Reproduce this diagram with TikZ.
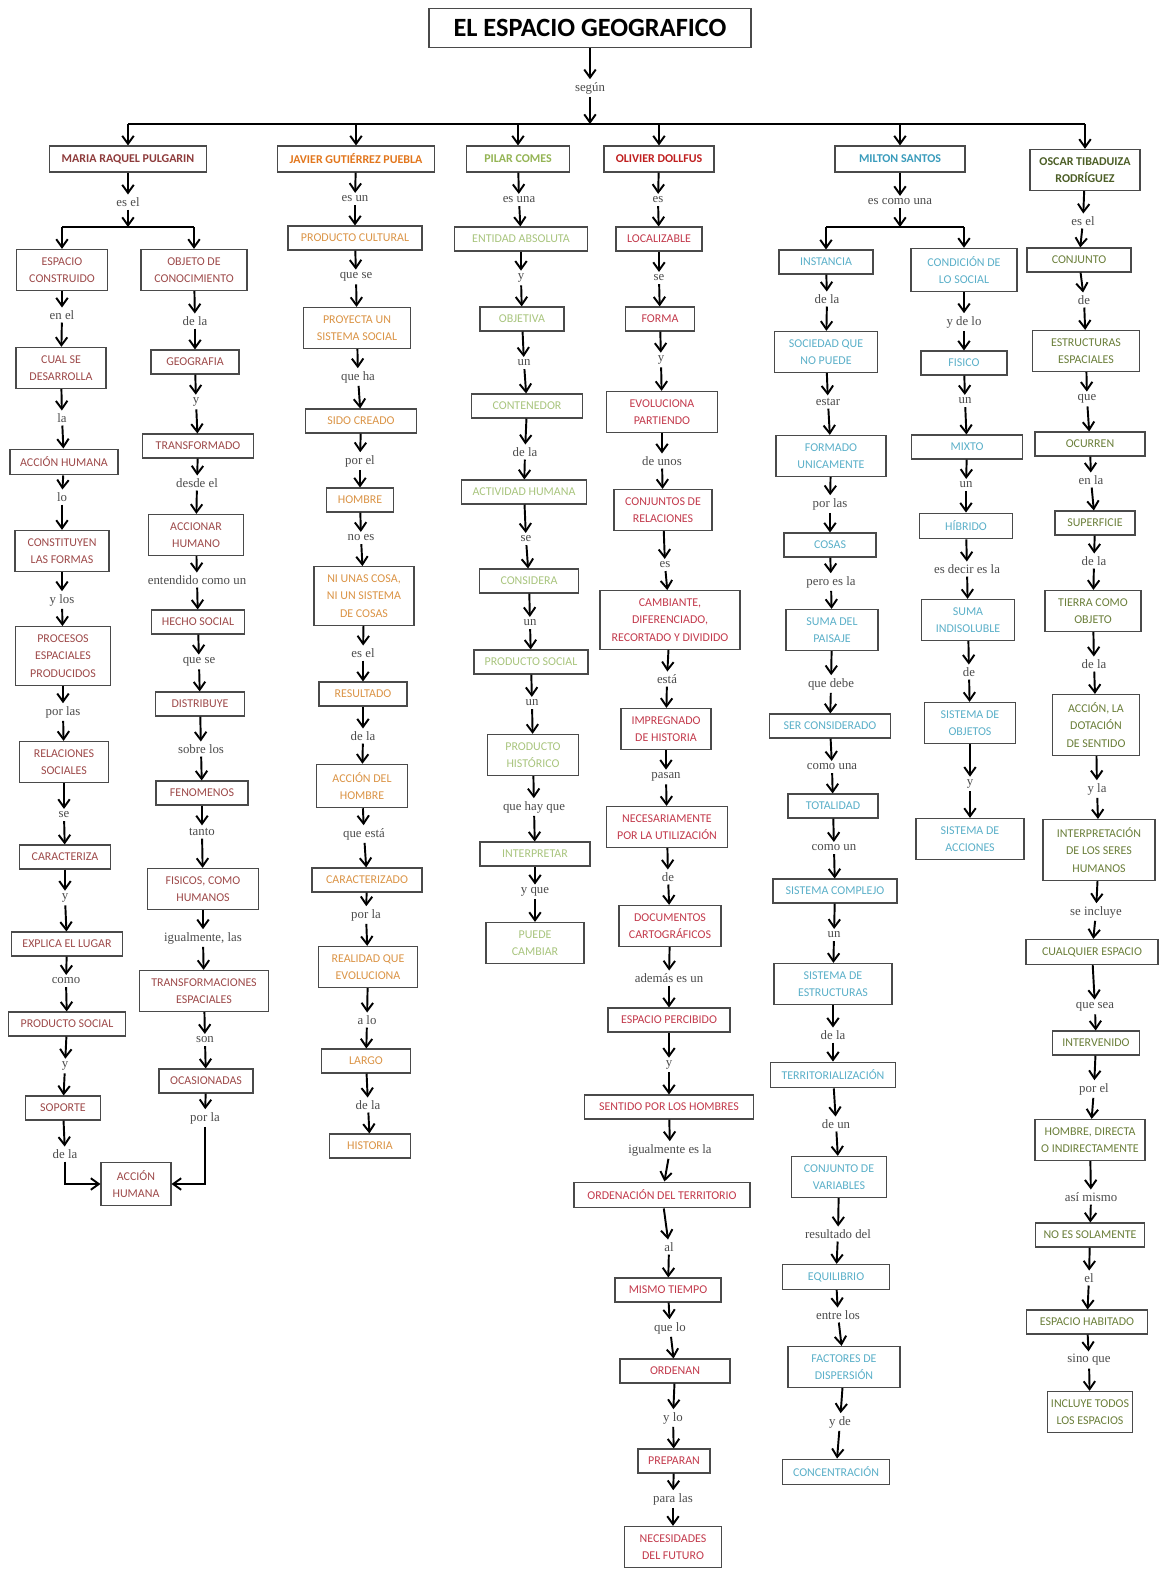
\documentclass[tikz,border=0pt]{standalone}
\usepackage{fontspec}
\setmainfont{Carlito}
\newfontfamily\rotulofont{Liberation Serif}
\usetikzlibrary{arrows.meta,calc}
\definecolor{egborde}{HTML}{4A4A4A}
\definecolor{egmaria}{HTML}{8E3B3B}
\definecolor{egmariaclaro}{HTML}{9E4A4A}
\definecolor{egjavier}{HTML}{E2761C}
\definecolor{egjavierclaro}{HTML}{DB9446}
\definecolor{egpilar}{HTML}{94B454}
\definecolor{egpilarclaro}{HTML}{A9C57E}
\definecolor{egolivier}{HTML}{C01F1F}
\definecolor{egolivierclaro}{HTML}{C33A4C}
\definecolor{egmilton}{HTML}{3A9CBC}
\definecolor{egmiltonclaro}{HTML}{5BB0C9}
\definecolor{egoscar}{HTML}{4C5E26}
\definecolor{egoscarclaro}{HTML}{6B7F3A}
\tikzset{
  egcaja/.style={draw=egborde, line width=0.6pt, fill=white, align=center,
                 font=\fontsize{6.8}{10}\selectfont, inner xsep=2pt, inner ysep=4.5pt, minimum height=0.48cm},
  egautor/.style={egcaja, font=\fontsize{6.8}{10}\selectfont\bfseries, minimum height=0.52cm},
  egtitulo/.style={draw=egborde, line width=0.8pt, font=\fontsize{15}{18}\selectfont\bfseries,
                 minimum width=6.44cm, minimum height=0.78cm},
  ancho/.style={minimum width=#1*0.02cm},
  egrotulo/.style={font=\rotulofont\fontsize{7.3}{8}\selectfont, text=black!70, inner sep=1.5pt},
  egflecha/.style={-{Straight Barb[length=1.6mm,width=2.3mm]}, line width=1.1pt},
  egtrazo/.style={line width=1.1pt},
  cmaria/.style={egcaja, text=egmariaclaro},
  cjavier/.style={egcaja, text=egjavierclaro},
  cpilar/.style={egcaja, text=egpilarclaro},
  colivier/.style={egcaja, text=egolivierclaro},
  cmilton/.style={egcaja, text=egmiltonclaro},
  coscar/.style={egcaja, text=egoscarclaro},
}
\begin{document}
\begin{tikzpicture}[x=0.02cm,y=-0.02cm]
    \fill[white] (0,0) rectangle (1168,1570);
    \useasboundingbox (0,0) rectangle (1168,1570);
    % ---------------- titulo ----------------
    \node[egtitulo] (titulo) at (590,28) {EL ESPACIO GEOGRAFICO};
    \node[egrotulo] (segun) at (590,88) {según};
    \coordinate (linea) at (590,124);
    % ---------------- autores ----------------
    \node[egautor, text=egmaria, ancho=157] (mr) at (128,159) {MARIA RAQUEL PULGARIN};
    \node[egautor, text=egjavier, ancho=157] (j0) at (356,159) {JAVIER GUTIÉRREZ PUEBLA};
    \node[egautor, text=egpilar, ancho=103] (p0) at (518,159) {PILAR COMES};
    \node[egautor, text=egolivier, ancho=110] (o0) at (659,159) {OLIVIER DOLLFUS};
    \node[egautor, text=egmilton, ancho=130] (s0) at (900,159) {MILTON SANTOS};
    \node[egautor, text=egoscar, ancho=110] (t0) at (1085,170) {OSCAR TIBADUIZA\\ RODRÍGUEZ};
    \draw[egflecha] (titulo) -- (segun);
    \draw[egflecha] (segun) -- (linea);
    \draw[egtrazo] (mr.north |- linea) -- (t0.north |- linea);
    \foreach \n in {mr,j0,p0,o0,s0,t0} {\draw[egflecha] (\n.north |- linea) -- (\n.north);}
    % ---------------- Maria Raquel Pulgarin ----------------
    \node[egrotulo] (lmr) at (128,202) {es el};
    \coordinate (mrama) at (128,227);
    \node[cmaria, ancho=91] (ma1) at (62,270) {ESPACIO\\ CONSTRUIDO};
    \node[egrotulo] (lma2) at (62,315) {en el};
    \node[cmaria, ancho=90] (ma2) at (61,368) {CUAL SE\\ DESARROLLA};
    \node[egrotulo] (lma3) at (62,418) {la};
    \node[cmaria, ancho=108] (ma3) at (64,462) {ACCIÓN HUMANA};
    \node[egrotulo] (lma4) at (62,497) {lo};
    \node[cmaria, ancho=94] (ma4) at (62,551) {CONSTITUYEN\\ LAS FORMAS};
    \node[egrotulo] (lma5) at (62,600) {y los};
    \node[cmaria, ancho=95] (ma5) at (63,656) {PROCESOS\\ ESPACIALES\\ PRODUCIDOS};
    \node[egrotulo] (lma6) at (63,712) {por las};
    \node[cmaria, ancho=89] (ma6) at (64,762) {RELACIONES\\ SOCIALES};
    \node[egrotulo] (lma7) at (64,815) {se};
    \node[cmaria, ancho=91] (ma7) at (65,857) {CARACTERIZA};
    \node[egrotulo] (lma8) at (65,898) {y};
    \node[cmaria, ancho=111] (ma8) at (67,944) {EXPLICA EL LUGAR};
    \node[egrotulo] (lma9) at (66,981) {como};
    \node[cmaria, ancho=117] (ma9) at (67,1024) {PRODUCTO SOCIAL};
    \node[egrotulo] (lma10) at (65,1066) {y};
    \node[cmaria, ancho=75] (ma10) at (63,1108) {SOPORTE};
    \node[egrotulo] (lmfa) at (65,1154) {de la};
    \node[cmaria, ancho=70] (mfin) at (136,1184) {ACCIÓN\\ HUMANA};
    \node[cmaria, ancho=106] (mb1) at (194,270) {OBJETO DE\\ CONOCIMIENTO};
    \node[egrotulo] (lmb2) at (195,321) {de la};
    \node[cmaria, ancho=88] (mb2) at (195,362) {GEOGRAFIA};
    \node[egrotulo] (lmb3) at (196,402) {y};
    \node[cmaria, ancho=111] (mb3) at (198,446) {TRANSFORMADO};
    \node[egrotulo] (lmb4) at (197,483) {desde el};
    \node[cmaria, ancho=95] (mb4) at (196,535) {ACCIONAR\\ HUMANO};
    \node[egrotulo] (lmb5) at (197,580) {entendido como un};
    \node[cmaria, ancho=93] (mb5) at (198,622) {HECHO SOCIAL};
    \node[egrotulo] (lmb6) at (199,662) {que se};
    \node[cmaria, ancho=89] (mb6) at (200,704) {DISTRIBUYE};
    \node[egrotulo] (lmb7) at (201,749) {sobre los};
    \node[cmaria, ancho=92] (mb7) at (202,793) {FENOMENOS};
    \node[egrotulo] (lmb8) at (202,832) {tanto};
    \node[cmaria, ancho=111] (mb8) at (203,889) {FISICOS, COMO\\ HUMANOS};
    \node[egrotulo] (lmb9) at (203,938) {igualmente, las};
    \node[cmaria, ancho=129] (mb9) at (204,991) {TRANSFORMACIONES\\ ESPACIALES};
    \node[egrotulo] (lmb10) at (205,1040) {son};
    \node[cmaria, ancho=94] (mb10) at (206,1081) {OCASIONADAS};
    \node[egrotulo] (lmfb) at (205,1118) {por la};
    \draw[egflecha] (mr) -- (lmr);
    \draw[egflecha] (lmr) -- (mrama);
    \draw[egtrazo] (ma1.north |- mrama) -- (mb1.north |- mrama);
    \foreach \n in {ma1,mb1} {\draw[egflecha] (\n.north |- mrama) -- (\n.north);}
    \foreach \a/\l/\b in {ma1/lma2/ma2, ma2/lma3/ma3, ma3/lma4/ma4, ma4/lma5/ma5, ma5/lma6/ma6,
        ma6/lma7/ma7, ma7/lma8/ma8, ma8/lma9/ma9, ma9/lma10/ma10} {\draw[egflecha] (\a) -- (\l); \draw[egflecha] (\l) -- (\b);}
    \foreach \a/\l/\b in {mb1/lmb2/mb2, mb2/lmb3/mb3, mb3/lmb4/mb4, mb4/lmb5/mb5, mb5/lmb6/mb6,
        mb6/lmb7/mb7, mb7/lmb8/mb8, mb8/lmb9/mb9, mb9/lmb10/mb10} {\draw[egflecha] (\a) -- (\l); \draw[egflecha] (\l) -- (\b);}
    \draw[egflecha] (ma10) -- (lmfa);
    \draw[egflecha] (mb10) -- (lmfb);
    \draw[egflecha] (lmfa.south) |- (mfin.west);
    \draw[egflecha] (lmfb.south) |- (mfin.east);
    % ---------------- Javier Gutierrez Puebla ----------------
    \node[egrotulo] (lj1) at (355,199) {es un};
    \node[cjavier, ancho=134] (j1) at (355,238) {PRODUCTO CULTURAL};
    \node[egrotulo] (lj2) at (356,277) {que se};
    \node[cjavier, ancho=107] (j2) at (357,328) {PROYECTA UN\\ SISTEMA SOCIAL};
    \node[egrotulo] (lj3) at (358,377) {que ha};
    \node[cjavier, ancho=111] (j3) at (361,421) {SIDO CREADO};
    \node[egrotulo] (lj4) at (360,461) {por el};
    \node[cjavier, ancho=67] (j4) at (360,500) {HOMBRE};
    \node[egrotulo] (lj5) at (361,538) {no es};
    \node[cjavier, ancho=100] (j5) at (364,596) {NI UNAS COSA,\\ NI UN SISTEMA\\ DE COSAS};
    \node[egrotulo] (lj6) at (363,653) {es el};
    \node[cjavier, ancho=88] (j6) at (363,694) {RESULTADO};
    \node[egrotulo] (lj7) at (363,736) {de la};
    \node[cjavier, ancho=91] (j7) at (362,786) {ACCIÓN DEL\\ HOMBRE};
    \node[egrotulo] (lj8) at (364,834) {que está};
    \node[cjavier, ancho=110] (j8) at (367,880) {CARACTERIZADO};
    \node[egrotulo] (lj9) at (366,915) {por la};
    \node[cjavier, ancho=99] (j9) at (368,967) {REALIDAD QUE\\ EVOLUCIONA};
    \node[egrotulo] (lj10) at (367,1020) {a lo};
    \node[cjavier, ancho=89] (j10) at (366,1061) {LARGO};
    \node[egrotulo] (lj11) at (368,1105) {de la};
    \node[cjavier, ancho=81] (j11) at (370,1146) {HISTORIA};
    \foreach \a/\l/\b in {j0/lj1/j1, j1/lj2/j2, j2/lj3/j3, j3/lj4/j4, j4/lj5/j5, j5/lj6/j6,
        j6/lj7/j7, j7/lj8/j8, j8/lj9/j9, j9/lj10/j10, j10/lj11/j11} {\draw[egflecha] (\a) -- (\l); \draw[egflecha] (\l) -- (\b);}
    % ---------------- Pilar Comes ----------------
    \node[egrotulo] (lp1) at (519,200) {es una};
    \node[cpilar, ancho=133] (p1) at (521,239) {ENTIDAD ABSOLUTA};
    \node[egrotulo] (lp2) at (521,278) {y};
    \node[cpilar, ancho=84] (p2) at (522,319) {OBJETIVA};
    \node[egrotulo] (lp3) at (524,363) {un};
    \node[cpilar, ancho=111] (p3) at (527,406) {CONTENEDOR};
    \node[egrotulo] (lp4) at (525,452) {de la};
    \node[cpilar, ancho=125] (p4) at (524,492) {ACTIVIDAD HUMANA};
    \node[egrotulo] (lp5) at (526,539) {se};
    \node[cpilar, ancho=99] (p5) at (529,581) {CONSIDERA};
    \node[egrotulo] (lp6) at (530,623) {un};
    \node[cpilar, ancho=114] (p6) at (531,662) {PRODUCTO SOCIAL};
    \node[egrotulo] (lp7) at (532,703) {un};
    \node[cpilar, ancho=91] (p7) at (533,755) {PRODUCTO\\ HISTÓRICO};
    \node[egrotulo] (lp8) at (534,807) {que hay que};
    \node[cpilar, ancho=110] (p8) at (535,854) {INTERPRETAR};
    \node[egrotulo] (lp9) at (535,892) {y que};
    \node[cpilar, ancho=98] (p9) at (535,943) {PUEDE\\ CAMBIAR};
    \foreach \a/\l/\b in {p0/lp1/p1, p1/lp2/p2, p2/lp3/p3, p3/lp4/p4, p4/lp5/p5,
        p5/lp6/p6, p6/lp7/p7, p7/lp8/p8, p8/lp9/p9} {\draw[egflecha] (\a) -- (\l); \draw[egflecha] (\l) -- (\b);}
    % ---------------- Olivier Dollfus ----------------
    \node[egrotulo] (lo1) at (658,200) {es};
    \node[colivier, ancho=86] (o1) at (659,239) {LOCALIZABLE};
    \node[egrotulo] (lo2) at (659,278) {se};
    \node[colivier, ancho=69] (o2) at (660,319) {FORMA};
    \node[egrotulo] (lo3) at (661,360) {y};
    \node[colivier, ancho=111] (o3) at (662,412) {EVOLUCIONA\\ PARTIENDO};
    \node[egrotulo] (lo4) at (662,461) {de unos};
    \node[colivier, ancho=98] (o4) at (663,510) {CONJUNTOS DE\\ RELACIONES};
    \node[egrotulo] (lo5) at (665,565) {es};
    \node[colivier, ancho=140] (o5) at (670,620) {CAMBIANTE,\\ DIFERENCIADO,\\ RECORTADO Y DIVIDIDO};
    \node[egrotulo] (lo6) at (667,679) {está};
    \node[colivier, ancho=90] (o6) at (666,729) {IMPREGNADO\\ DE HISTORIA};
    \node[egrotulo] (lo7) at (666,777) {pasan};
    \node[colivier, ancho=121] (o7) at (667,827) {NECESARIAMENTE\\ POR LA UTILIZACIÓN};
    \node[egrotulo] (lo8) at (668,877) {de};
    \node[colivier, ancho=102] (o8) at (670,926) {DOCUMENTOS\\ CARTOGRÁFICOS};
    \node[egrotulo] (lo9) at (669,978) {además es un};
    \node[colivier, ancho=122] (o9) at (669,1020) {ESPACIO PERCIBIDO};
    \node[egrotulo] (lo10) at (669,1065) {y};
    \node[colivier, ancho=169] (o10) at (669,1107) {SENTIDO POR LOS HOMBRES};
    \node[egrotulo] (lo11) at (670,1150) {igualmente es la};
    \node[colivier, ancho=176] (o11) at (662,1195) {ORDENACIÓN DEL TERRITORIO};
    \node[egrotulo] (lo12) at (669,1247) {al};
    \node[colivier, ancho=106] (o12) at (668,1290) {MISMO TIEMPO};
    \node[egrotulo] (lo13) at (670,1328) {que lo};
    \node[colivier, ancho=110] (o13) at (675,1371) {ORDENAN};
    \node[egrotulo] (lo14) at (673,1418) {y lo};
    \node[colivier, ancho=72] (o14) at (674,1461) {PREPARAN};
    \node[egrotulo] (lo15) at (673,1499) {para las};
    \node[colivier, ancho=97] (o15) at (673,1547) {NECESIDADES\\ DEL FUTURO};
    \foreach \a/\l/\b in {o0/lo1/o1, o1/lo2/o2, o2/lo3/o3, o3/lo4/o4, o4/lo5/o5, o5/lo6/o6, o6/lo7/o7, o7/lo8/o8,
        o8/lo9/o9, o9/lo10/o10, o10/lo11/o11, o11/lo12/o12, o12/lo13/o13, o13/lo14/o14, o14/lo15/o15} {\draw[egflecha] (\a) -- (\l); \draw[egflecha] (\l) -- (\b);}
    % ---------------- Milton Santos ----------------
    \node[egrotulo] (ls0) at (900,202) {es como una};
    \coordinate (srama) at (900,227);
    \node[cmilton, ancho=94] (sa1) at (826,262) {INSTANCIA};
    \node[egrotulo] (lsa2) at (827,299) {de la};
    \node[cmilton, ancho=103] (sa2) at (826,352) {SOCIEDAD QUE\\ NO PUEDE};
    \node[egrotulo] (lsa3) at (828,402) {estar};
    \node[cmilton, ancho=110] (sa3) at (831,456) {FORMADO\\ UNICAMENTE};
    \node[egrotulo] (lsa4) at (830,504) {por las};
    \node[cmilton, ancho=92] (sa4) at (830,545) {COSAS};
    \node[egrotulo] (lsa5) at (831,582) {pero es la};
    \node[cmilton, ancho=92] (sa5) at (832,630) {SUMA DEL\\ PAISAJE};
    \node[egrotulo] (lsa6) at (831,684) {que debe};
    \node[cmilton, ancho=121] (sa6) at (830,726) {SER CONSIDERADO};
    \node[egrotulo] (lsa7) at (832,767) {como una};
    \node[cmilton, ancho=90] (sa7) at (833,806) {TOTALIDAD};
    \node[egrotulo] (lsa8) at (834,848) {como un};
    \node[cmilton, ancho=124] (sa8) at (835,891) {SISTEMA COMPLEJO};
    \node[egrotulo] (lsa9) at (834,935) {un};
    \node[cmilton, ancho=118] (sa9) at (833,984) {SISTEMA DE\\ ESTRUCTURAS};
    \node[egrotulo] (lsa10) at (833,1035) {de la};
    \node[cmilton, ancho=125] (sa10) at (833,1075) {TERRITORIALIZACIÓN};
    \node[egrotulo] (lsa11) at (836,1124) {de un};
    \node[cmilton, ancho=95] (sa11) at (839,1177) {CONJUNTO DE\\ VARIABLES};
    \node[egrotulo] (lsa12) at (838,1234) {resultado del};
    \node[cmilton, ancho=107] (sa12) at (836,1277) {EQUILIBRIO};
    \node[egrotulo] (lsa13) at (838,1315) {entre los};
    \node[cmilton, ancho=112] (sa13) at (844,1367) {FACTORES DE\\ DISPERSIÓN};
    \node[egrotulo] (lsa14) at (840,1422) {y de};
    \node[cmilton, ancho=107] (sa14) at (836,1472) {CONCENTRACIÓN};
    \node[cmilton, ancho=106] (sb1) at (964,270) {CONDICIÓN DE\\ LO SOCIAL};
    \node[egrotulo] (lsb2) at (964,322) {y de lo};
    \node[cmilton, ancho=86] (sb2) at (964,363) {FISICO};
    \node[egrotulo] (lsb3) at (965,401) {un};
    \node[cmilton, ancho=111] (sb3) at (967,447) {MIXTO};
    \node[egrotulo] (lsb4) at (966,485) {un};
    \node[cmilton, ancho=93] (sb4) at (966,526) {HÍBRIDO};
    \node[egrotulo] (lsb5) at (967,569) {es decir es la};
    \node[cmilton, ancho=93] (sb5) at (968,620) {SUMA\\ INDISOLUBLE};
    \node[egrotulo] (lsb6) at (969,672) {de};
    \node[cmilton, ancho=91] (sb6) at (970,723) {SISTEMA DE\\ OBJETOS};
    \node[egrotulo] (lsb7) at (970,784) {y};
    \node[cmilton, ancho=108] (sb7) at (970,839) {SISTEMA DE\\ ACCIONES};
    \draw[egflecha] (s0) -- (ls0);
    \draw[egflecha] (ls0) -- (srama);
    \draw[egtrazo] (sa1.north |- srama) -- (sb1.north |- srama);
    \foreach \n in {sa1,sb1} {\draw[egflecha] (\n.north |- srama) -- (\n.north);}
    \foreach \a/\l/\b in {sa1/lsa2/sa2, sa2/lsa3/sa3, sa3/lsa4/sa4, sa4/lsa5/sa5, sa5/lsa6/sa6, sa6/lsa7/sa7, sa7/lsa8/sa8,
        sa8/lsa9/sa9, sa9/lsa10/sa10, sa10/lsa11/sa11, sa11/lsa12/sa12, sa12/lsa13/sa13, sa13/lsa14/sa14} {\draw[egflecha] (\a) -- (\l); \draw[egflecha] (\l) -- (\b);}
    \foreach \a/\l/\b in {sb1/lsb2/sb2, sb2/lsb3/sb3, sb3/lsb4/sb4, sb4/lsb5/sb5, sb5/lsb6/sb6, sb6/lsb7/sb7} {\draw[egflecha] (\a) -- (\l); \draw[egflecha] (\l) -- (\b);}
    % ---------------- Oscar Tibaduiza Rodriguez ----------------
    \node[egrotulo] (lt1) at (1083,221) {es el};
    \node[coscar, ancho=104] (t1) at (1079,260) {CONJUNTO};
    \node[egrotulo] (lt2) at (1084,300) {de};
    \node[coscar, ancho=107] (t2) at (1086,351) {ESTRUCTURAS\\ ESPACIALES};
    \node[egrotulo] (lt3) at (1087,399) {que};
    \node[coscar, ancho=110] (t3) at (1090,444) {OCURREN};
    \node[egrotulo] (lt4) at (1091,480) {en la};
    \node[coscar, ancho=80] (t4) at (1095,523) {SUPERFICIE};
    \node[egrotulo] (lt5) at (1094,561) {de la};
    \node[coscar, ancho=96] (t5) at (1093,611) {TIERRA COMO\\ OBJETO};
    \node[egrotulo] (lt6) at (1094,664) {de la};
    \node[coscar, ancho=87] (t6) at (1096,725) {ACCIÓN, LA\\ DOTACIÓN\\ DE SENTIDO};
    \node[egrotulo] (lt7) at (1097,789) {y la};
    \node[coscar, ancho=112] (t7) at (1099,850) {INTERPRETACIÓN\\ DE LOS SERES\\ HUMANOS};
    \node[egrotulo] (lt8) at (1096,912) {se incluye};
    \node[coscar, ancho=132] (t8) at (1092,952) {CUALQUIER ESPACIO};
    \node[egrotulo] (lt9) at (1095,1007) {que sea};
    \node[coscar, ancho=87] (t9) at (1096,1043) {INTERVENIDO};
    \node[egrotulo] (lt10) at (1094,1089) {por el};
    \node[coscar, ancho=110] (t10) at (1090,1140) {HOMBRE, DIRECTA\\ O INDIRECTAMENTE};
    \node[egrotulo] (lt11) at (1091,1197) {así mismo};
    \node[coscar, ancho=109] (t11) at (1090,1235) {NO ES SOLAMENTE};
    \node[egrotulo] (lt12) at (1089,1278) {el};
    \node[coscar, ancho=121] (t12) at (1087,1322) {ESPACIO HABITADO};
    \node[egrotulo] (lt13) at (1089,1360) {sino que};
    \node[coscar, ancho=85] (t13) at (1090,1412) {INCLUYE TODOS\\ LOS ESPACIOS};
    \foreach \a/\l/\b in {t0/lt1/t1, t1/lt2/t2, t2/lt3/t3, t3/lt4/t4, t4/lt5/t5, t5/lt6/t6, t6/lt7/t7,
        t7/lt8/t8, t8/lt9/t9, t9/lt10/t10, t10/lt11/t11, t11/lt12/t12, t12/lt13/t13} {\draw[egflecha] (\a) -- (\l); \draw[egflecha] (\l) -- (\b);}
\end{tikzpicture}
\end{document}
